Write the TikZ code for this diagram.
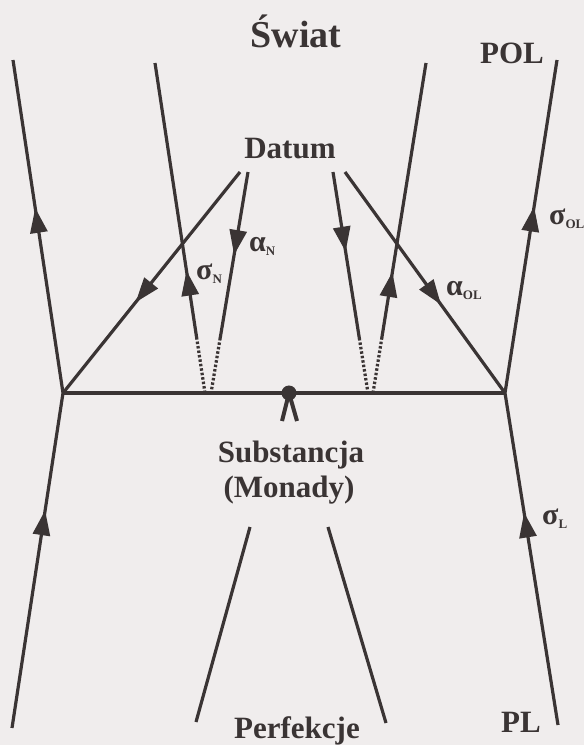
\documentclass[tikz,border=0pt]{standalone}
\usepackage{fontspec}
\setmainfont{Liberation Serif}
\usetikzlibrary{arrows.meta,decorations.markings}
\definecolor{ink}{RGB}{58,52,52}
\definecolor{paper}{RGB}{240,237,237}
\tikzset{
  ln/.style={color=ink,line width=3.2pt},
  dots/.style={color=ink,line width=3.2pt,dash pattern=on 2.5pt off 2pt},
  arr/.style={postaction={decorate},decoration={markings,mark=at position #1 with {\arrow{Triangle[length=25pt,width=17pt]}}}},
  lbl/.style={font=\bfseries\fontsize{31}{31}\selectfont,text=ink,inner sep=0pt,anchor=base},
  gk/.style={text=ink,inner sep=0pt,anchor=west,font=\bfseries\fontsize{30}{30}\selectfont},
}
\newcommand{\sbs}[1]{\raisebox{-4pt}{\fontsize{13}{13}\selectfont #1}}
\begin{document}
\begin{tikzpicture}[x=1pt,y=-1pt]
\fill[paper] (0,0) rectangle (584,745);
\useasboundingbox (0,0) rectangle (584,745);
\clip (0,0) rectangle (584,745);
% coordinates
\coordinate (L) at (63,393);
\coordinate (R) at (505,393);
\coordinate (tl) at (13,60);
\coordinate (bl) at (12,728);
\coordinate (tn) at (155,63);
\coordinate (qn) at (196.7,338);
\coordinate (pn) at (205,393);
\coordinate (dA) at (240,172);
\coordinate (dN) at (248,172);
\coordinate (qa) at (220.2,338);
\coordinate (pa) at (211,393);
\coordinate (dB) at (333,172);
\coordinate (qb) at (359.3,338);
\coordinate (pb) at (368,393);
\coordinate (to) at (426,63);
\coordinate (qo) at (381.8,338);
\coordinate (po) at (373,393);
\coordinate (dC) at (345,172);
\coordinate (tr) at (557,60);
\coordinate (br) at (558,725);
\coordinate (f1a) at (250,527);
\coordinate (f1b) at (196,722);
\coordinate (f2a) at (328,527);
\coordinate (f2b) at (386,723);
\coordinate (dot) at (289,393);
\coordinate (legl) at (282,421);
\coordinate (legr) at (297,421);
% texts
\node[lbl,font=\bfseries\fontsize{38}{38}\selectfont] (swiat) at (296,47) {Świat};
\node[lbl] (pol) at (512,63) {POL};
\node[lbl] (datum) at (290,158) {Datum};
\node[lbl] (subst) at (291,462) {Substancja};
\node[lbl] (monady) at (289,497) {(Monady)};
\node[lbl] (perf) at (297,738) {Perfekcje};
\node[lbl] (pl) at (521,732) {PL};
% horizontal
\draw[ln] (L) -- (R);
% left outer
\draw[ln,arr=0.556] (L) -- (tl);
\draw[ln,arr=0.65] (bl) -- (L);
% left diagonal from Datum
\draw[ln,arr=0.59] (dA) -- (L);
% sigma_N
\draw[ln,arr=0.245] (qn) -- (tn);
\draw[dots] (pn) -- (qn);
% alpha_N
\draw[ln,arr=0.5] (dN) -- (qa);
\draw[dots] (qa) -- (pa);
% right inner down
\draw[ln,arr=0.48] (dB) -- (qb);
\draw[dots] (qb) -- (pb);
% right inner up
\draw[ln,arr=0.24] (qo) -- (to);
\draw[dots] (po) -- (qo);
% alpha_OL diagonal
\draw[ln,arr=0.6] (dC) -- (R);
% right outer
\draw[ln,arr=0.56] (R) -- (tr);
\draw[ln,arr=0.64] (br) -- (R);
% perfekcje lines
\draw[ln] (f1a) -- (f1b);
\draw[ln] (f2a) -- (f2b);
% dot and legs
\fill[ink] (dot) circle (7.5);
\draw[ln,line width=4pt] (legl) -- (dot) -- (legr);
% greek labels
\node[gk] (sN) at (196,274) {σ\sbs{N}};
\node[gk] (aN) at (249,246) {α\sbs{N}};
\node[gk] (aOL) at (446,290) {α\sbs{OL}};
\node[gk] (sOL) at (549,219) {σ\sbs{OL}};
\node[gk] (sL) at (542,519) {σ\sbs{L}};
\end{tikzpicture}
\end{document}
